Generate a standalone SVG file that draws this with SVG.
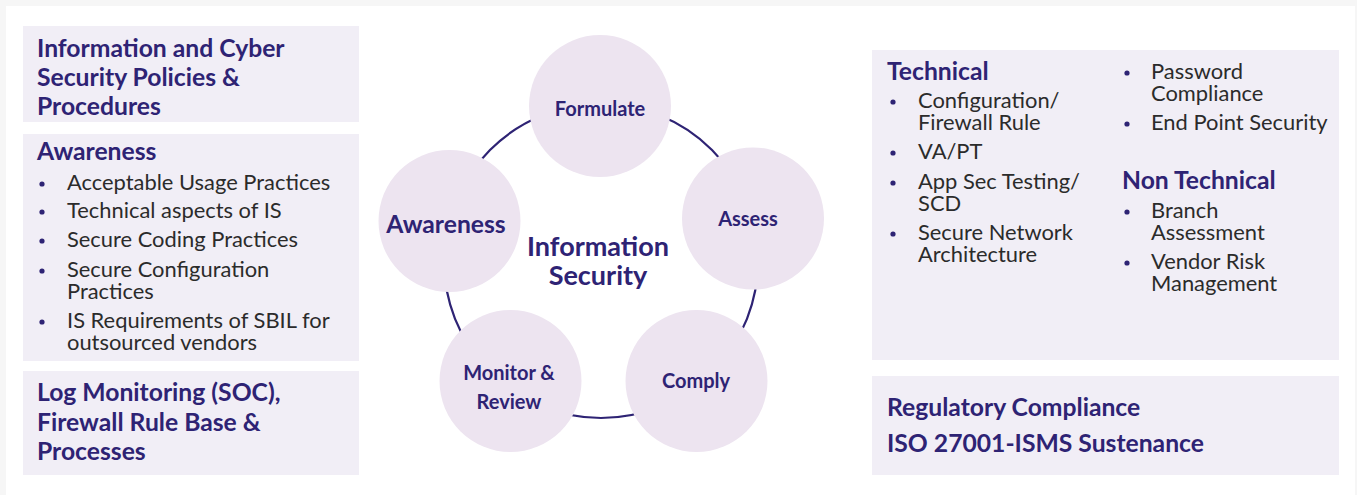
<svg xmlns="http://www.w3.org/2000/svg" width="1357" height="495" viewBox="0 0 1357 495">
<style>
.box{fill:#f1eef6}
.node{fill:#ede4f0}
.h{font-family:Lato,"Liberation Sans",sans-serif;font-weight:700;fill:#2e2374;font-size:24.7px}
.c{font-family:Lato,"Liberation Sans",sans-serif;font-weight:700;fill:#2e2374;font-size:20px;text-anchor:middle}
.t{font-family:Lato,"Liberation Sans",sans-serif;font-weight:400;fill:#2b2b2b;font-size:21.9px}
.b{fill:#2e2374}
</style>
<rect x="0" y="0" width="1357" height="495" fill="#f6f6f6"/>
<rect x="6" y="6" width="1349" height="489" fill="#ffffff"/>

<g id="connectors">
<circle cx="601" cy="261" r="157" fill="none" stroke="#2e2374" stroke-width="2.2"/>
</g>

<g id="box-policies">
<rect class="box" x="23" y="26" width="336" height="96"/>
<text class="h" x="37" y="57">Information and Cyber</text>
<text class="h" x="37" y="86">Security Policies &amp;</text>
<text class="h" x="37" y="115">Procedures</text>
</g>

<g id="box-awareness">
<rect class="box" x="23" y="134" width="336" height="227"/>
<text class="h" x="37" y="160">Awareness</text>
<circle class="b" cx="42" cy="184" r="2.6"/>
<text class="t" x="67" y="190">Acceptable Usage Practices</text>
<circle class="b" cx="42" cy="212" r="2.6"/>
<text class="t" x="67" y="218">Technical aspects of IS</text>
<circle class="b" cx="42" cy="241" r="2.6"/>
<text class="t" x="67" y="247">Secure Coding Practices</text>
<circle class="b" cx="42" cy="271" r="2.6"/>
<text class="t" x="67" y="277">Secure Configuration</text>
<text class="t" x="67" y="299">Practices</text>
<circle class="b" cx="42" cy="322" r="2.6"/>
<text class="t" x="67" y="328">IS Requirements of SBIL for</text>
<text class="t" x="67" y="350">outsourced vendors</text>
</g>

<g id="box-log">
<rect class="box" x="23" y="371" width="336" height="104"/>
<text class="h" x="37" y="401">Log Monitoring (SOC),</text>
<text class="h" x="37" y="431">Firewall Rule Base &amp;</text>
<text class="h" x="37" y="460">Processes</text>
</g>

<g id="node-formulate">
<circle class="node" cx="600" cy="106" r="71"/>
<text class="c" x="600" y="116">Formulate</text>
</g>
<g id="node-assess">
<circle class="node" cx="753" cy="218.5" r="71"/>
<text class="c" x="748" y="226">Assess</text>
</g>
<g id="node-comply">
<circle class="node" cx="696.5" cy="381" r="71"/>
<text class="c" x="696" y="388">Comply</text>
</g>
<g id="node-monitor">
<circle class="node" cx="510.5" cy="381" r="71"/>
<text class="c" x="509" y="380">Monitor &amp;</text>
<text class="c" x="509" y="409">Review</text>
</g>
<g id="node-awareness">
<circle class="node" cx="449.5" cy="221" r="71"/>
<text class="c" x="446" y="233" style="font-size:24.7px">Awareness</text>
</g>
<g id="center-label">
<text class="c" x="598" y="256" style="font-size:27px">Information</text>
<text class="c" x="598" y="285" style="font-size:27px">Security</text>
</g>

<g id="box-technical">
<rect class="box" x="872" y="50" width="467" height="310"/>
<text class="h" x="887" y="80">Technical</text>
<circle class="b" cx="893" cy="102" r="2.6"/>
<text class="t" x="918" y="108">Configuration/</text>
<text class="t" x="918" y="130">Firewall Rule</text>
<circle class="b" cx="893" cy="153" r="2.6"/>
<text class="t" x="918" y="159">VA/PT</text>
<circle class="b" cx="893" cy="183" r="2.6"/>
<text class="t" x="918" y="189">App Sec Testing/</text>
<text class="t" x="918" y="211">SCD</text>
<circle class="b" cx="893" cy="234" r="2.6"/>
<text class="t" x="918" y="240">Secure Network</text>
<text class="t" x="918" y="262">Architecture</text>
<circle class="b" cx="1127" cy="73" r="2.6"/>
<text class="t" x="1151" y="79">Password</text>
<text class="t" x="1151" y="101">Compliance</text>
<circle class="b" cx="1127" cy="124" r="2.6"/>
<text class="t" x="1151" y="130">End Point Security</text>
<text class="h" x="1122" y="189">Non Technical</text>
<circle class="b" cx="1127" cy="212" r="2.6"/>
<text class="t" x="1151" y="218">Branch</text>
<text class="t" x="1151" y="240">Assessment</text>
<circle class="b" cx="1127" cy="263" r="2.6"/>
<text class="t" x="1151" y="269">Vendor Risk</text>
<text class="t" x="1151" y="291">Management</text>
</g>

<g id="box-regulatory">
<rect class="box" x="872" y="376" width="467" height="99"/>
<text class="h" x="887" y="416">Regulatory Compliance</text>
<text class="h" x="887" y="452">ISO 27001-ISMS Sustenance</text>
</g>
</svg>
